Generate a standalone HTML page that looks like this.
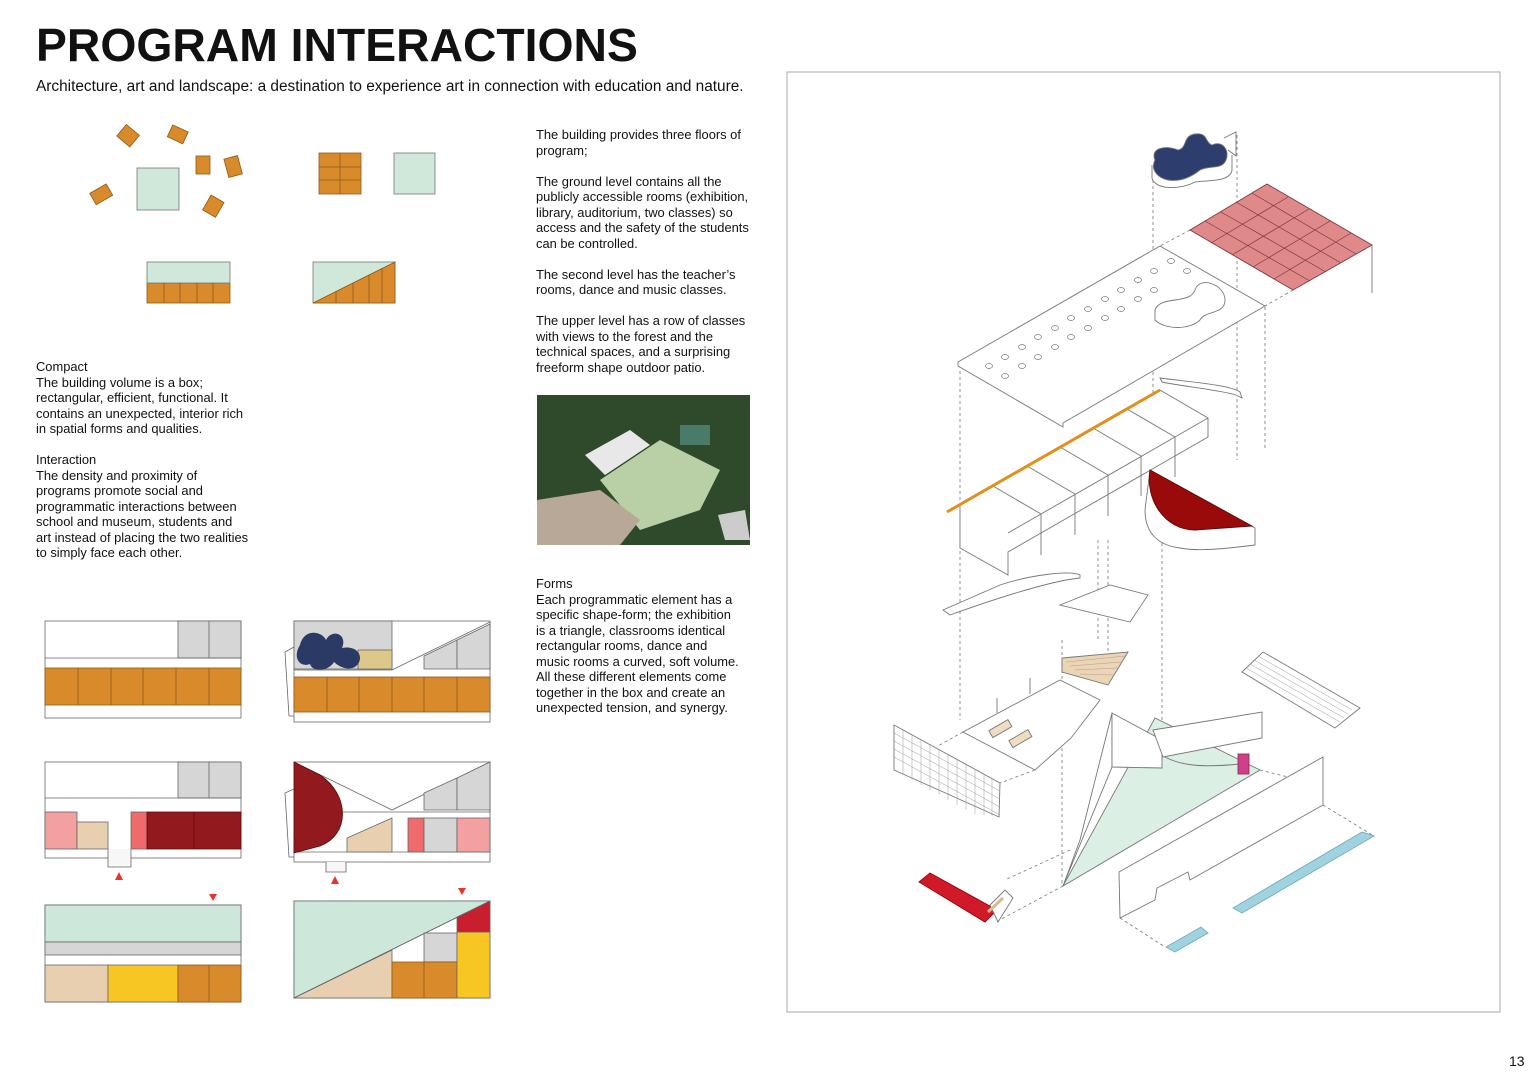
<!DOCTYPE html>
<html><head><meta charset="utf-8"><style>
body{margin:0;background:#fff;}
#p{position:relative;width:1536px;height:1084px;overflow:hidden;background:#fff;font-family:"Liberation Sans",Arial,sans-serif;color:#111;}
.t{position:absolute;font-size:12.9px;line-height:15.5px;}
h1{position:absolute;left:36px;top:18px;margin:0;font-size:46.3px;font-weight:bold;letter-spacing:0px;}
svg{position:absolute;left:0;top:0;}
</style></head><body><div id="p">
<svg width="1536" height="1084" viewBox="0 0 1536 1084">
<g stroke="#8a5a1a" stroke-width="0.8" fill="#d98a2b">
<rect x="120" y="128" width="17" height="15" transform="rotate(40 128 135)"/>
<rect x="169" y="128" width="17" height="13" transform="rotate(25 178 135)"/>
<rect x="196" y="156" width="14" height="18"/>
<rect x="226" y="157" width="14" height="19" transform="rotate(-15 233 166)"/>
<rect x="92" y="188" width="19" height="13" transform="rotate(-30 101 195)"/>
<rect x="206" y="198" width="15" height="17" transform="rotate(30 214 206)"/>
<rect x="319" y="153" width="42" height="41"/>
<rect x="147" y="283" width="83" height="20"/>
</g>
<rect x="137" y="168" width="42" height="42" fill="#cfe8d9" stroke="#777" stroke-width="0.8"/>
<rect x="394" y="153" width="41" height="41" fill="#cfe8d9" stroke="#777" stroke-width="0.8"/>
<rect x="147" y="262" width="83" height="21" fill="#cfe8d9" stroke="#777" stroke-width="0.8"/>
<g stroke="#8a5a1a" stroke-width="0.8"><line x1="340" y1="153" x2="340" y2="194"/><line x1="319" y1="167" x2="361" y2="167"/><line x1="319" y1="180" x2="361" y2="180"/>
<line x1="164" y1="283" x2="164" y2="303"/><line x1="180" y1="283" x2="180" y2="303"/><line x1="197" y1="283" x2="197" y2="303"/><line x1="213" y1="283" x2="213" y2="303"/></g>
<rect x="313" y="262" width="82" height="41" fill="#cfe8d9" stroke="#777" stroke-width="0.8"/>
<polygon points="313,303 395,262 395,303" fill="#d98a2b" stroke="#8a5a1a" stroke-width="0.8"/>
<g stroke="#8a5a1a" stroke-width="0.8"><line x1="336" y1="292" x2="336" y2="303"/><line x1="353" y1="283" x2="353" y2="303"/><line x1="369" y1="275" x2="369" y2="303"/><line x1="382" y1="268" x2="382" y2="303"/></g>

<g stroke="#666" stroke-width="0.8">
<rect x="45" y="621" width="196" height="97" fill="#fff"/>
<rect x="178" y="621" width="63" height="37" fill="#d6d6d6"/><line x1="209" y1="621" x2="209" y2="658"/>
<line x1="45" y1="658" x2="241" y2="658"/>
<rect x="45" y="668" width="196" height="37" fill="#d98a2b" stroke="#8a5a1a"/>
<g stroke="#8a5a1a"><line x1="78" y1="668" x2="78" y2="705"/><line x1="111" y1="668" x2="111" y2="705"/><line x1="143" y1="668" x2="143" y2="705"/><line x1="176" y1="668" x2="176" y2="705"/><line x1="209" y1="668" x2="209" y2="705"/></g>

<rect x="294" y="621" width="196" height="101" fill="#fff"/>
<rect x="294" y="621" width="98" height="48" fill="#d6d6d6"/>
<rect x="358" y="650" width="34" height="19" fill="#dcc98a"/>
<path d="M294,670 L392,670 L490,622 L490,670" fill="#fff"/>
<polygon points="424,669 424,656 457,640 457,669" fill="#d6d6d6"/><polygon points="457,669 457,640 490,624 490,669" fill="#d6d6d6"/>
<path d="M300,645 C304,628 322,631 326,640 C332,628 348,634 342,648 C356,645 364,655 358,664 C352,672 340,668 334,662 C328,672 312,672 310,664 C300,668 292,658 300,645 Z" fill="#2a3a64" stroke="none"/>
<path d="M294,647 L285,652 L289,716 L294,716" fill="none"/>
<rect x="294" y="677" width="196" height="35" fill="#d98a2b" stroke="#8a5a1a"/>
<g stroke="#8a5a1a"><line x1="327" y1="677" x2="327" y2="712"/><line x1="359" y1="677" x2="359" y2="712"/><line x1="392" y1="677" x2="392" y2="712"/><line x1="424" y1="677" x2="424" y2="712"/><line x1="457" y1="677" x2="457" y2="712"/></g>

<rect x="45" y="762" width="196" height="96" fill="#fff"/>
<rect x="178" y="762" width="63" height="36" fill="#d6d6d6"/><line x1="209" y1="762" x2="209" y2="798"/>
<line x1="45" y1="798" x2="241" y2="798"/>
<rect x="45" y="812" width="32" height="37" fill="#f3a0a0"/>
<rect x="77" y="822" width="31" height="27" fill="#e8cfb0"/>
<rect x="131" y="812" width="16" height="37" fill="#ef6b6b"/>
<rect x="147" y="812" width="94" height="37" fill="#921a1e" stroke="#5a0a0a"/><line x1="194" y1="812" x2="194" y2="849" stroke="#5a0a0a"/>
<path d="M108,849 L108,867 L131,867 L131,849" fill="#f7f7f7"/>

<rect x="294" y="762" width="196" height="100" fill="#fff"/>
<path d="M294,762 L392,810 L490,762 L490,812 L294,812" fill="none"/>
<polygon points="424,810 424,793 457,778 457,810" fill="#d6d6d6"/><polygon points="457,810 457,778 490,762 490,810" fill="#d6d6d6"/>
<line x1="294" y1="852" x2="490" y2="852"/>
<polygon points="347,845 347,838 392,818 392,852 347,852" fill="#e8cfb0"/>
<rect x="408" y="818" width="16" height="34" fill="#ef6b6b"/><rect x="424" y="818" width="33" height="34" fill="#d6d6d6"/><rect x="457" y="818" width="33" height="34" fill="#f3a0a0"/>
<path d="M294,762 L320,775 C350,795 350,835 320,846 L294,853 Z" fill="#921a1e" stroke="#5a0a0a"/>
<path d="M294,789 L285,793 L289,857 L294,857" fill="none"/>
<path d="M326,862 L326,872 L346,872 L346,862" fill="#f7f7f7"/>

<rect x="45" y="905" width="196" height="97" fill="#fff"/>
<rect x="45" y="905" width="196" height="37" fill="#cde8da"/>
<rect x="45" y="942" width="196" height="13" fill="#d6d6d6"/>
<rect x="45" y="965" width="63" height="37" fill="#e8cfb0"/>
<rect x="108" y="965" width="70" height="37" fill="#f8c623"/>
<rect x="178" y="965" width="63" height="37" fill="#d98a2b" stroke="#8a5a1a"/><line x1="209" y1="965" x2="209" y2="1002" stroke="#8a5a1a"/>

<rect x="294" y="901" width="196" height="97" fill="#fff"/>
<polygon points="294,998 294,901 490,901" fill="#cde8da"/>
<polygon points="294,998 392,950 392,998" fill="#e8cfb0"/>
<rect x="424" y="933" width="33" height="29" fill="#d6d6d6"/>
<rect x="392" y="962" width="65" height="36" fill="#d98a2b" stroke="#8a5a1a"/><line x1="424" y1="962" x2="424" y2="998" stroke="#8a5a1a"/>
<rect x="457" y="932" width="33" height="66" fill="#f8c623"/>
<polygon points="457,932 457,917 490,901 490,932" fill="#c81e2e"/>
<line x1="294" y1="998" x2="490" y2="901"/>
</g>
<g fill="#e8332a"><polygon points="115,880 123,880 119,872"/><polygon points="209,894 217,894 213,901"/><polygon points="331,884 339,884 335,876"/><polygon points="458,888 466,888 462,895"/></g>

<rect x="537" y="395" width="213" height="150" fill="#2f4a2a"/>
<polygon points="600,480 660,440 720,470 700,510 640,530" fill="#b9cfa6"/>
<polygon points="585,455 630,430 650,445 605,475" fill="#e8e8e8"/>
<polygon points="537,500 600,490 640,520 620,545 537,545" fill="#b8a898"/>
<rect x="680" y="425" width="30" height="20" fill="#4a7a68"/>
<polygon points="718,515 745,510 750,540 725,540" fill="#ccc"/>

<rect x="787" y="72" width="713" height="940" fill="none" stroke="#aaa" stroke-width="1"/>
<g stroke="#777" stroke-width="0.8" fill="none" stroke-dasharray="3,3">
<line x1="960" y1="365" x2="960" y2="720"/><line x1="1153" y1="180" x2="1153" y2="440"/><line x1="1237" y1="135" x2="1237" y2="460"/><line x1="1265" y1="307" x2="1265" y2="450"/>
<line x1="1062" y1="640" x2="1062" y2="885"/><line x1="1162" y1="525" x2="1162" y2="730"/><line x1="1108" y1="540" x2="1108" y2="680"/><line x1="1098" y1="540" x2="1098" y2="640"/>
<line x1="963" y1="732" x2="938" y2="746"/><line x1="1035" y1="770" x2="1000" y2="783"/>
<line x1="1063" y1="886" x2="996" y2="922"/><line x1="1070" y1="850" x2="1005" y2="880"/>
<line x1="1120" y1="918" x2="1165" y2="947"/><line x1="1323" y1="805" x2="1374" y2="836"/><line x1="1260" y1="770" x2="1300" y2="780"/>
<line x1="1190" y1="230" x2="1160" y2="246"/><line x1="1293" y1="290" x2="1265" y2="306"/>
</g>
<g stroke="#777" stroke-width="0.9" fill="#fff">
<polygon points="958,362 1160,246 1265,306 1063,423 1063,427 958,366"/>
<polygon points="1190,230 1267,184 1372,245 1293,290" fill="#e0898b" stroke="#7a3a3a"/>
<g stroke="#7a3a3a" stroke-width="0.7"><line x1="1211" y1="243" x2="1288" y2="197"/><line x1="1232" y1="255" x2="1309" y2="209"/><line x1="1253" y1="267" x2="1330" y2="221"/><line x1="1274" y1="279" x2="1351" y2="233"/>
<line x1="1205" y1="221" x2="1310" y2="281"/><line x1="1221" y1="212" x2="1326" y2="272"/><line x1="1236" y1="202" x2="1341" y2="263"/><line x1="1252" y1="193" x2="1356" y2="254"/></g>
<line x1="1372" y1="245" x2="1372" y2="293"/>
<path d="M1152,165 L1152,178 C1155,190 1180,190 1195,182 C1210,180 1230,182 1232,170 L1232,155" fill="#fff"/>
<path d="M1155,160 C1150,148 1165,145 1178,150 C1188,148 1182,136 1195,134 C1208,132 1205,143 1212,145 C1222,140 1230,150 1226,160 C1222,170 1210,165 1200,170 C1190,178 1180,182 1168,180 C1158,178 1150,170 1155,160 Z" fill="#2d3d6e"/>
<path d="M1224,138 L1236,132 L1236,156 L1228,150" fill="#fff"/>
<path d="M1155,310 C1160,295 1190,305 1195,290 C1200,275 1225,285 1225,300 C1225,315 1205,310 1200,320 C1190,330 1165,330 1155,320 Z"/>
</g>
<g fill="#fff" stroke="#777" stroke-width="0.7">
<ellipse cx="989" cy="366" rx="3.5" ry="2.5"/><ellipse cx="1005" cy="357" rx="3.5" ry="2.5"/><ellipse cx="1022" cy="347" rx="3.5" ry="2.5"/><ellipse cx="1038" cy="337" rx="3.5" ry="2.5"/><ellipse cx="1055" cy="328" rx="3.5" ry="2.5"/><ellipse cx="1071" cy="318" rx="3.5" ry="2.5"/><ellipse cx="1088" cy="309" rx="3.5" ry="2.5"/><ellipse cx="1105" cy="299" rx="3.5" ry="2.5"/><ellipse cx="1121" cy="290" rx="3.5" ry="2.5"/><ellipse cx="1138" cy="280" rx="3.5" ry="2.5"/><ellipse cx="1154" cy="271" rx="3.5" ry="2.5"/><ellipse cx="1171" cy="261" rx="3.5" ry="2.5"/>
<ellipse cx="1005" cy="376" rx="3.5" ry="2.5"/><ellipse cx="1022" cy="366" rx="3.5" ry="2.5"/><ellipse cx="1038" cy="357" rx="3.5" ry="2.5"/><ellipse cx="1055" cy="347" rx="3.5" ry="2.5"/><ellipse cx="1071" cy="337" rx="3.5" ry="2.5"/><ellipse cx="1088" cy="328" rx="3.5" ry="2.5"/><ellipse cx="1105" cy="318" rx="3.5" ry="2.5"/><ellipse cx="1121" cy="309" rx="3.5" ry="2.5"/><ellipse cx="1138" cy="299" rx="3.5" ry="2.5"/><ellipse cx="1154" cy="290" rx="3.5" ry="2.5"/><ellipse cx="1187" cy="271" rx="3.5" ry="2.5"/>
</g>
<g stroke="#777" stroke-width="0.9" fill="#fff">
<polygon points="960,505 1160,390 1208,418 1208,437 1008,552 1008,575 960,548"/>
<line x1="1008" y1="533" x2="1208" y2="418"/>
<line x1="993" y1="486" x2="1041" y2="514"/><line x1="1027" y1="466" x2="1075" y2="494"/><line x1="1060" y1="447" x2="1108" y2="475"/><line x1="1093" y1="428" x2="1141" y2="456"/><line x1="1127" y1="409" x2="1175" y2="437"/>
<line x1="1041" y1="514" x2="1041" y2="555"/><line x1="1075" y1="494" x2="1075" y2="535"/><line x1="1108" y1="475" x2="1108" y2="516"/><line x1="1141" y1="456" x2="1141" y2="496"/><line x1="1175" y1="437" x2="1175" y2="477"/>
<line x1="947" y1="512" x2="1160" y2="390" stroke="#e0901e" stroke-width="3"/>
<path d="M1160,378 C1190,382 1230,385 1240,392 L1242,398 L1236,395 C1220,390 1180,386 1162,382 Z"/>
<path d="M1150,470 L1255,528 L1255,545 C1230,548 1200,552 1180,548 C1155,545 1145,530 1145,510 Z"/>
<path d="M1150,470 L1252,526 L1195,530 C1165,530 1145,500 1150,470 Z" fill="#9b0a0a" stroke="#5a0a0a"/>
<path d="M943,610 L1000,585 C1030,575 1070,570 1080,575 L1080,578 C1060,580 1020,590 950,615 Z"/>
<path d="M1060,605 L1110,585 L1148,595 L1130,622 Z"/>
<polygon points="1062,658 1128,652 1108,685 1062,672" fill="#ead5b5"/>
<g stroke="#b99" stroke-width="0.5"><line x1="1066" y1="662" x2="1125" y2="656"/><line x1="1070" y1="666" x2="1121" y2="662"/><line x1="1075" y1="670" x2="1117" y2="668"/><line x1="1080" y1="674" x2="1113" y2="675"/></g>
<polygon points="963,732 1060,680 1100,700 1071,738 1035,770"/>
<line x1="997" y1="713" x2="997" y2="698"/><line x1="1030" y1="694" x2="1030" y2="678"/>
<rect x="990" y="725" width="22" height="8" fill="#f0dcc0" transform="rotate(-30 1000 730)"/><rect x="1010" y="735" width="22" height="8" fill="#f0dcc0" transform="rotate(-30 1020 740)"/>
<polygon points="894,725 1000,783 999,817 894,770" fill="#fff"/>
<g stroke="#999" stroke-width="0.5">
<line x1="894" y1="733" x2="1000" y2="791"/><line x1="894" y1="741" x2="1000" y2="799"/><line x1="894" y1="749" x2="1000" y2="807"/><line x1="894" y1="757" x2="1000" y2="815"/>
<line x1="903" y1="730" x2="903" y2="775"/><line x1="912" y1="735" x2="912" y2="780"/><line x1="921" y1="740" x2="921" y2="785"/><line x1="930" y1="745" x2="930" y2="790"/><line x1="939" y1="750" x2="939" y2="795"/><line x1="948" y1="755" x2="948" y2="800"/><line x1="957" y1="760" x2="957" y2="805"/><line x1="966" y1="765" x2="966" y2="810"/><line x1="975" y1="770" x2="975" y2="814"/><line x1="984" y1="774" x2="984" y2="815"/><line x1="992" y1="779" x2="992" y2="816"/></g>
<polygon points="1242,672 1263,652 1360,708 1335,728" />
<g stroke="#999" stroke-width="0.5"><line x1="1246" y1="668" x2="1340" y2="722"/><line x1="1250" y1="664" x2="1344" y2="718"/><line x1="1254" y1="660" x2="1348" y2="714"/><line x1="1258" y1="656" x2="1352" y2="710"/></g>
<polygon points="1063,886 1155,718 1260,770" fill="#dcefe4"/>
<polygon points="1080,840 1112,713 1112,767 1063,886"/>
<polygon points="1112,713 1162,740 1162,768 1112,767"/>
<polygon points="1153,730 1262,712 1262,738 1163,757"/>
<path d="M1165,757 C1180,765 1200,768 1240,764" fill="none"/>
<rect x="1238" y="754" width="11" height="20" fill="#d0408a" stroke="#903060"/>
<polygon points="1119,872 1323,757 1323,805 1190,880 1188,872 1157,888 1155,900 1120,918"/>
<polygon points="1233,908 1362,832 1374,836 1242,913" fill="#9fd3df" stroke="#7ab"/>
<polygon points="1166,947 1201,927 1208,933 1175,952" fill="#9fd3df" stroke="#7ab"/>
<polygon points="919,882 930,873 997,910 985,922" fill="#d01a2a" stroke="#900"/>
<polygon points="990,905 1005,890 1013,898 998,922"/>
<line x1="988" y1="912" x2="1003" y2="898" stroke="#d9b88a" stroke-width="3"/>
</g>
</svg>
<h1>PROGRAM INTERACTIONS</h1>
<div class="t" style="left:36px;top:78px;font-size:15.4px;line-height:18px;">Architecture, art and landscape: a destination to experience art in connection with education and nature.</div>
<div class="t" style="left:36px;top:359px;width:240px;">Compact<br>The building volume is a box;<br>rectangular, efficient, functional. It<br>contains an unexpected, interior rich<br>in spatial forms and qualities.<br><br>Interaction<br>The density and proximity of<br>programs promote social and<br>programmatic interactions between<br>school and museum, students and<br>art instead of placing the two realities<br>to simply face each other.</div>
<div class="t" style="left:536px;top:127px;width:240px;">The building provides three floors of<br>program;<br><br>The ground level contains all the<br>publicly accessible rooms (exhibition,<br>library, auditorium, two classes) so<br>access and the safety of the students<br>can be controlled.<br><br>The second level has the teacher’s<br>rooms, dance and music classes.<br><br>The upper level has a row of classes<br>with views to the forest and the<br>technical spaces, and a surprising<br>freeform shape outdoor patio.</div>
<div class="t" style="left:536px;top:576px;width:240px;">Forms<br>Each programmatic element has a<br>specific shape-form; the exhibition<br>is a triangle, classrooms identical<br>rectangular rooms, dance and<br>music rooms a curved, soft volume.<br>All these different elements come<br>together in the box and create an<br>unexpected tension, and synergy.</div>
<div class="t" style="left:1509px;top:1054px;font-size:14px;">13</div>
</div></body></html>
